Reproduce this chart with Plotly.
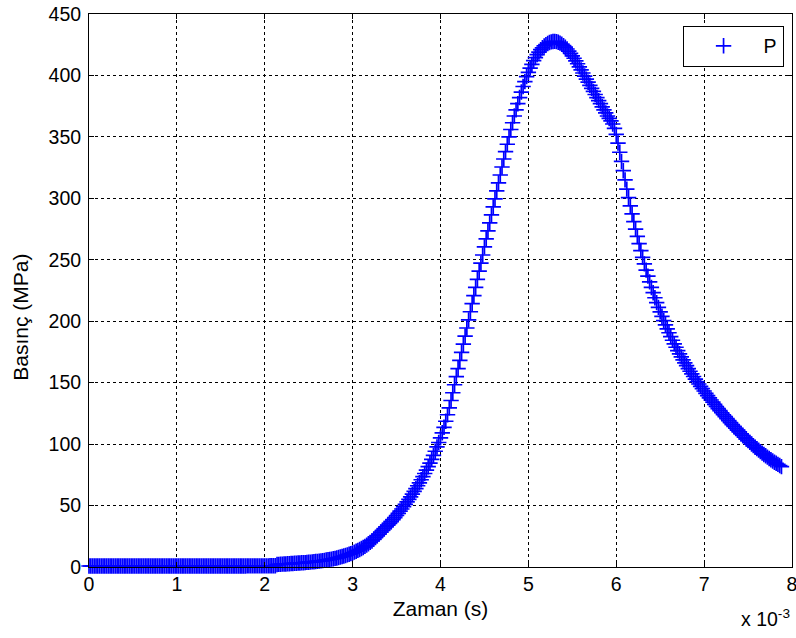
import plotly.graph_objects as go

# Sampling grid of the recorded pressure trace (time in ms, x 10^-3 s)
sample_start_ms = 0.0
sample_step_ms = 0.02

# Pressure values (MPa), one per sample
pressure_mpa = [
    # 0.00 - 1.98 ms
    0.8, 0.8, 0.8, 0.8, 0.8, 0.8, 0.8, 0.8, 0.8, 0.8, 0.8, 0.8, 0.8, 0.8, 0.8, 0.8, 0.8, 0.8, 0.8, 0.8,
    0.8, 0.8, 0.8, 0.8, 0.8, 0.8, 0.8, 0.8, 0.8, 0.8, 0.8, 0.8, 0.8, 0.8, 0.8, 0.8, 0.8, 0.8, 0.8, 0.8,
    0.8, 0.8, 0.8, 0.8, 0.8, 0.8, 0.8, 0.8, 0.8, 0.8, 0.8, 0.8, 0.8, 0.8, 0.8, 0.8, 0.8, 0.8, 0.8, 0.8,
    0.8, 0.8, 0.8, 0.8, 0.8, 0.8, 0.8, 0.8, 0.8, 0.8, 0.8, 0.8, 0.8, 0.8, 0.8, 0.8, 0.8, 0.8, 0.8, 0.8,
    0.8, 0.8, 0.8, 0.8, 0.8, 0.8, 0.8, 0.8, 0.8, 0.8, 0.9, 0.9, 0.9, 0.9, 0.9, 0.9, 0.9, 0.9, 0.9, 0.9,
    # 2.00 - 3.00 ms
    0.9, 0.9, 0.9, 1.0, 1.0, 1.0, 1.0,
    2.0, 2.1, 2.2, 2.3, 2.4, 2.5, 2.6, 2.7, 2.8, 2.9, 3.0, 3.1, 3.2, 3.3,
    3.4, 3.5, 3.6, 3.8, 3.9, 4.0, 4.2, 4.3, 4.5, 4.6, 4.8,
    5.0, 5.2, 5.4, 5.7, 5.9, 6.2, 6.4, 6.7, 7.0,
    7.3, 7.7, 8.1, 8.5, 8.9, 9.4, 9.9, 10.4, 10.9, 11.5,
    # 3.02 - 7.00 ms
    12.1, 12.8, 13.5, 14.2, 15.0, 15.9, 16.8, 17.8, 18.9, 20.0,
    21.2, 22.5, 23.9, 25.3, 26.8, 28.3, 29.8, 31.3, 32.7, 34.1,
    35.5, 37.0, 38.6, 40.2, 41.9, 43.6, 45.4, 47.2, 49.1, 51.0,
    53.0, 55.0, 57.1, 59.3, 61.5, 63.8, 66.1, 68.5, 71.0, 73.5,
    76.1, 78.8, 81.6, 84.5, 87.6, 90.8, 94.2, 97.7, 101.3, 105.1,
    109.2, 113.7, 118.6, 123.9, 129.5, 135.5, 141.8, 148.3, 154.9, 161.5,
    168.1, 174.7, 181.3, 187.9, 194.5, 201.1, 207.7, 214.3, 220.9, 227.5,
    234.1, 240.7, 247.3, 253.9, 260.5, 267.0, 273.5, 280.0, 286.5, 293.0,
    299.5, 306.0, 312.5, 319.0, 325.5, 332.0, 338.0, 344.0, 350.0, 356.0,
    361.5, 367.0, 372.0, 377.0, 382.0, 386.5, 391.0, 395.0, 399.0, 402.5,
    406.0, 409.0, 412.0, 414.5, 417.0, 419.0, 421.0, 422.5, 424.0, 425.0,
    426.0, 426.8, 427.3, 427.6, 427.7, 427.5, 427.0, 426.3, 425.4, 424.3,
    423.0, 421.5, 419.8, 418.0, 416.0, 414.0, 411.8, 409.5, 407.0, 404.5,
    402.0, 399.5, 397.0, 394.5, 392.0, 389.5, 387.0, 384.5, 382.0, 379.5,
    377.0, 374.5, 372.0, 369.5, 367.0, 365.0, 363.0, 360.5, 357.0, 352.0,
    345.0, 337.5, 330.0, 322.5, 315.0, 307.5, 300.5, 293.8, 287.3, 281.1,
    275.0, 269.0, 263.2, 257.5, 252.0, 246.7, 241.6, 236.7, 232.0, 227.5,
    223.2, 219.1, 215.1, 211.3, 207.6, 204.0, 200.5, 197.1, 193.8, 190.6,
    187.5, 184.5, 181.6, 178.8, 176.1, 173.5, 171.0, 168.5, 166.1, 163.8,
    161.5, 159.3, 157.1, 155.0, 152.9, 150.9, 148.9, 147.0, 145.1, 143.2,
    # 7.02 - 7.88 ms
    141.3, 139.5, 137.7, 135.9, 134.1, 132.3, 130.6, 128.9, 127.2, 125.5,
    123.9, 122.3, 120.7, 119.1, 117.5, 115.9, 114.4, 112.9, 111.4, 109.9,
    108.4, 107.0, 105.6, 104.2, 102.8, 101.4, 100.1, 98.8,
    97.5, 96.3, 95.1, 93.9, 92.7, 91.6, 90.5, 89.4, 88.3, 87.3, 86.3, 85.3,
    84.4, 83.5, 82.6, 81.7,
]

time_ms = [round(sample_start_ms + i * sample_step_ms, 2) for i in range(len(pressure_mpa))]

x_ticks = [0, 1, 2, 3, 4, 5, 6, 7, 8]
y_ticks = [0, 50, 100, 150, 200, 250, 300, 350, 400, 450]

series_name = "P"
x_title = "Zaman (s)"
y_title = "Basınç (MPa)"
x_exponent = "x 10<sup>-3</sup>"

FONT = "Liberation Sans, Arial, sans-serif"
TICK_SIZE = 19.5
TITLE_SIZE = 21

fig = go.Figure()
fig.add_trace(go.Scatter(
    x=time_ms, y=pressure_mpa, mode="markers", name=series_name,
    cliponaxis=False,
    marker=dict(symbol="cross-thin", size=11, color="#0000FF",
                line=dict(color="#0000FF", width=1.7)),
))

axis_common = dict(
    showgrid=True, gridcolor="#000000", gridwidth=1, griddash="3px,3px",
    showline=True, linecolor="#000000", linewidth=1, mirror="ticks",
    ticks="inside", ticklen=5, tickcolor="#000000", tickwidth=1,
    zeroline=False, ticklabeloverflow="allow",
    tickfont=dict(family=FONT, size=TICK_SIZE, color="#000000"),
)

fig.update_xaxes(
    range=[0, 8], tickvals=x_ticks, ticktext=[str(v) for v in x_ticks],
    title=dict(text=x_title, font=dict(family=FONT, size=TITLE_SIZE, color="#000000"), standoff=6),
    **axis_common,
)
fig.update_yaxes(
    range=[0, 450], tickvals=y_ticks, ticktext=[str(v) for v in y_ticks],
    ticklabelstandoff=3,
    **axis_common,
)

# y-axis title placed as rotated text at the reference position
fig.add_annotation(
    text=y_title, xref="paper", yref="paper", x=-0.098, y=0.451,
    xanchor="center", yanchor="middle", textangle=-90, showarrow=False,
    font=dict(family=FONT, size=TITLE_SIZE, color="#000000"),
)

fig.add_annotation(
    text=x_exponent, xref="paper", yref="paper", x=1.0, y=-0.118,
    xanchor="right", yanchor="bottom", showarrow=False,
    font=dict(family=FONT, size=TICK_SIZE, color="#000000"),
)

fig.update_layout(
    width=796, height=638,
    margin=dict(l=89, r=4, t=14, b=71, autoexpand=False),
    paper_bgcolor="white", plot_bgcolor="white",
    showlegend=True,
    legend=dict(
        x=0.988, y=0.979, xanchor="right", yanchor="top",
        bgcolor="white", bordercolor="#000000", borderwidth=1,
        font=dict(family=FONT, size=TICK_SIZE, color="#000000"),
        itemwidth=70,
    ),
    font=dict(family=FONT, size=TICK_SIZE, color="#000000"),
)

fig.write_html(
    "out.html",
    config={"displayModeBar": False},
    post_script="document.body.style.margin='0';document.body.style.padding='0';",
)
